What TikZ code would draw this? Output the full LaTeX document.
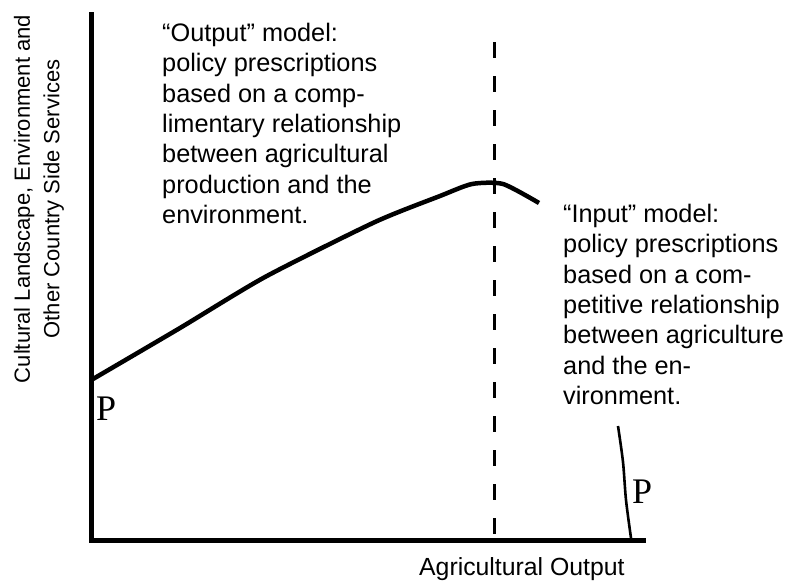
\documentclass[tikz,border=0pt]{standalone}
\usepackage{fontspec}
\setmainfont{Liberation Sans}
\newfontfamily\pserif{Liberation Serif}
\begin{document}
\begin{tikzpicture}[x=1pt,y=-1pt,
  axis/.style={line width=5pt, line join=miter},
  curve/.style={line width=4.5pt, line join=round},
  thincurve/.style={line width=2.6pt},
  vline/.style={line width=2.8pt, dash pattern=on 16pt off 18pt},
  note/.style={anchor=north west, inner sep=0pt, align=left, font=\fontsize{25.3}{30.3}\selectfont},
  plabel/.style={anchor=base west, inner sep=0pt, font=\pserif\fontsize{36}{36}\selectfont},
]
\useasboundingbox (0,0) rectangle (793,581);
% axes
\coordinate (ytop) at (91.5,12);
\coordinate (origin) at (91.5,540.5);
\coordinate (xend) at (646,540.5);
\draw[axis] (ytop) -- (origin) -- (xend);
% dashed vertical line
\coordinate (dtop) at (494.5,42);
\coordinate (dbot) at (494.5,540);
\draw[vline] (dtop) -- (dbot);
% main curve
\coordinate (c1) at (93,379);
\coordinate (c2) at (180,328);
\coordinate (c3) at (265,277);
\coordinate (c4) at (375,222);
\coordinate (c5) at (440,196);
\coordinate (c6) at (472,184);
\coordinate (c7) at (503,184);
\coordinate (c8) at (539,203);
\draw[curve] plot[smooth, tension=0.4] coordinates {(c1) (c2) (c3) (c4) (c5) (c6) (c7) (c8)};
% lower right curve
\coordinate (r1) at (618,426);
\coordinate (r2) at (623,462);
\coordinate (r3) at (626,500);
\coordinate (r4) at (631,538);
\draw[thincurve] plot[smooth, tension=0.5] coordinates {(r1) (r2) (r3) (r4)};
% labels
\node[plabel] (pleft) at (96,420) {P};
\node[plabel] (pright) at (632,503) {P};
\node[note] (outnote) at (162,23) {“Output” model:\\policy prescriptions\\based on a comp-\\limentary relationship\\between agricultural\\production and the\\environment.};
\node[note] (innote) at (563,204) {“Input” model:\\policy prescriptions\\based on a com-\\petitive relationship\\between agriculture\\and the en-\\vironment.};
\node[anchor=base west, inner sep=0pt, font=\fontsize{24.8}{24.8}\selectfont] (xlabel) at (419,575) {Agricultural Output};
\node[rotate=90, inner sep=0pt, align=center, font=\fontsize{22}{29.5}\selectfont] (ylabel) at (39,199) {Cultural Landscape, Environment and\\Other Country Side Services};
\end{tikzpicture}
\end{document}
